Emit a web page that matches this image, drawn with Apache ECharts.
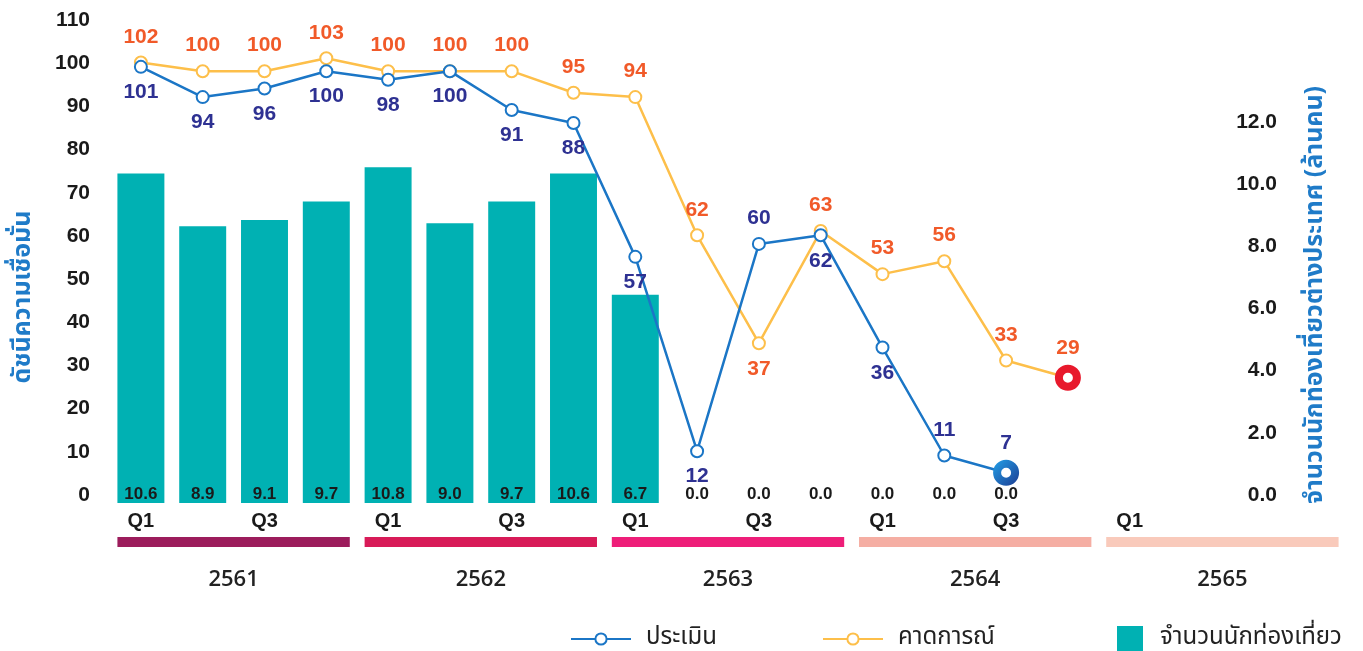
<!DOCTYPE html>
<html>
<head>
<meta charset="utf-8">
<script src="https://cdn.jsdelivr.net/npm/echarts@6/dist/echarts.min.js"></script>
<style>
html,body{margin:0;padding:0;background:#fff;}
#chart{width:1363px;height:651px;}
</style>
</head>
<body>
<div id="chart"></div>
<script>
// ---- data ----
const quarters = ['Q1','Q2','Q3','Q4','Q1','Q2','Q3','Q4','Q1','Q2','Q3','Q4','Q1','Q2','Q3','Q4','Q1','Q2','Q3','Q4'];
const years = ['2561','2562','2563','2564','2565'];
const assessed = [101,94,96,100,98,100,91,88,57,12,60,62,36,11,7];      // ประเมิน
const forecast = [102,100,100,103,100,100,100,95,94,62,37,63,53,56,33,29]; // คาดการณ์
const tourists = [10.6,8.9,9.1,9.7,10.8,9.0,9.7,10.6,6.7,0,0,0,0,0,0];  // จำนวนนักท่องเที่ยว (ล้านคน)
const leftTicks = {min:0, max:110, interval:10};
const rightTicks = {min:0, max:15.28, interval:2, lastLabel:12};
const yearBand = [1,1,1,1,1];

// ---- styles ----
const yearColors = ['#9c1c5c','#d81b58','#ee1e79','#f5aea3','#f9cabb'];
const blueAbove = [10,13,14];
const orangeBelow = [10];
const numFont = "'Liberation Sans', Arial, Helvetica, sans-serif";
const thaiFont = "'Noto Sans Thai','Noto Sans','Open Sans',sans-serif";

const chart = echarts.init(document.getElementById('chart'));

const blueData = assessed.map((v,i)=>{
  const last = i === assessed.length-1;
  const above = blueAbove.indexOf(i) >= 0;
  const d = {value:v, label:{position: above?'top':'bottom', distance: last?6:8}};
  if(last){
    d.symbol='circle'; d.symbolSize=18;
    d.itemStyle={color:'#fff', borderWidth:8,
      borderColor:new echarts.graphic.LinearGradient(0,0,1,1,[{offset:0,color:'#22a0e8'},{offset:1,color:'#1c3c92'}])};
  }
  return d;
});
const orangeData = forecast.map((v,i)=>{
  const last = i === forecast.length-1;
  const below = orangeBelow.indexOf(i) >= 0;
  const d = {value:v, label:{position: below?'bottom':'top', distance: last?6:8}};
  if(last){
    d.symbol='circle'; d.symbolSize=18;
    d.itemStyle={color:'#fff', borderWidth:8, borderColor:'#e8192c'};
  }
  return d;
});

const legendText = {fontFamily:thaiFont, fontSize:24, color:'#222', padding:[0,0,0,10]};

const option = {
  animation:false,
  grid:[
    {left:110, width:1236, top:28, height:475},
    {left:110, width:1236, top:537, height:10}
  ],
  legend:[
    {data:['ประเมิน'], left:565, top:622, itemWidth:60, itemHeight:14, textStyle:legendText},
    {data:['คาดการณ์'], left:817, top:622, itemWidth:60, itemHeight:14, textStyle:legendText},
    {data:[{name:'จำนวนนักท่องเที่ยว', icon:'rect'}], left:1112, top:621, itemWidth:26, itemHeight:26,
     textStyle:{fontFamily:thaiFont, fontSize:24, color:'#222', padding:[0,0,0,12]}}
  ],
  xAxis:[
    {type:'category', gridIndex:0, data:quarters,
     axisLine:{show:false}, axisTick:{show:false},
     axisLabel:{interval:function(i){return i%2===0 && i<=16;}, margin:8,
       fontFamily:numFont, fontSize:20, fontWeight:'bold', color:'#1a1a1a'}},
    {type:'category', gridIndex:1, data:years,
     axisLine:{show:false}, axisTick:{show:false},
     axisLabel:{margin:22, fontFamily:"'Open Sans','Noto Sans',sans-serif", fontSize:22, fontWeight:600, color:'#222'}}
  ],
  yAxis:[
    {type:'value', gridIndex:0, min:leftTicks.min, max:leftTicks.max, interval:leftTicks.interval,
     axisLine:{show:false}, axisTick:{show:false}, splitLine:{show:false},
     axisLabel:{margin:20, verticalAlign:'bottom', lineHeight:16, fontFamily:numFont, fontSize:21, fontWeight:'bold', color:'#1a1a1a'}},
    {type:'value', gridIndex:0, position:'right', min:rightTicks.min, max:rightTicks.max, interval:rightTicks.interval,
     axisLine:{show:false}, axisTick:{show:false}, splitLine:{show:false},
     axisLabel:{inside:true, margin:69, verticalAlign:'bottom', lineHeight:16, fontFamily:numFont, fontSize:21, fontWeight:'bold', color:'#1a1a1a',
       formatter:function(v){return v<=rightTicks.lastLabel ? v.toFixed(1) : '';}}},
    {type:'value', gridIndex:1, min:0, max:1, show:false}
  ],
  series:[
    {name:'จำนวนนักท่องเที่ยว', type:'bar', xAxisIndex:0, yAxisIndex:1, data:tourists,
     barCategoryGap:'24%', itemStyle:{color:'#00b1b3'}, z:1,
     label:{show:true, position:'insideBottom', distance:0, fontFamily:numFont, fontSize:17, fontWeight:'bold', color:'#1a1a1a',
       formatter:function(p){return p.value.toFixed(1);}}},
    {name:'ประเมิน', type:'line', xAxisIndex:0, yAxisIndex:0, data:blueData,
     symbol:'emptyCircle', symbolSize:12, z:4,
     lineStyle:{color:'#1b76c6', width:2.5}, itemStyle:{color:'#1b76c6', borderWidth:2.5},
     label:{show:true, fontFamily:numFont, fontSize:21, fontWeight:'bold', color:'#2e3192'}},
    {name:'คาดการณ์', type:'line', xAxisIndex:0, yAxisIndex:0, data:orangeData,
     symbol:'emptyCircle', symbolSize:12, z:3,
     lineStyle:{color:'#fdbf4a', width:2.5}, itemStyle:{color:'#fdbf4a', borderWidth:2.5},
     label:{show:true, fontFamily:numFont, fontSize:21, fontWeight:'bold', color:'#f15a29'}},
    {type:'bar', xAxisIndex:1, yAxisIndex:2, data:yearBand.map((v,i)=>({value:v, itemStyle:{color:yearColors[i]}})),
     barWidth:'94%', silent:true, legendHoverLink:false}
  ],
  graphic:[
    {type:'text', x:25, y:297, rotation:Math.PI/2,
     style:{text:'ดัชนีความเชื่อมั่น', fill:'#1f7bc8', font:"bold 25px "+thaiFont, textAlign:'center', textVerticalAlign:'middle'}},
    {type:'text', x:1317, y:295, rotation:Math.PI/2,
     style:{text:'จำนวนนักท่องเที่ยวต่างประเทศ (ล้านคน)', fill:'#1f7bc8', font:"bold 25px "+thaiFont, textAlign:'center', textVerticalAlign:'middle'}}
  ]
};
chart.setOption(option);
</script>
</body>
</html>
